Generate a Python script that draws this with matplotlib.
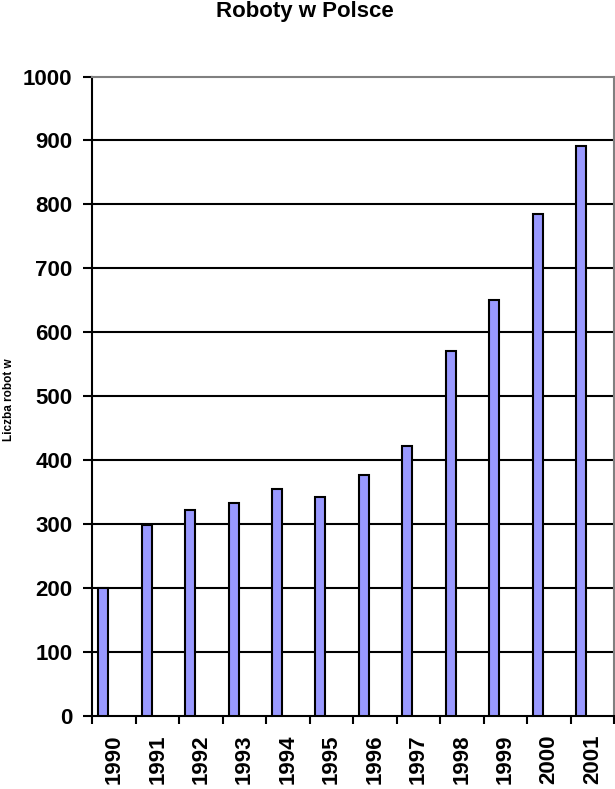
import numpy as np
import matplotlib
matplotlib.use("Agg")
import matplotlib.pyplot as plt

# Data
years = ['1990', '1991', '1992', '1993', '1994', '1995',
         '1996', '1997', '1998', '1999', '2000', '2001']
robots = [200, 299, 322, 333, 355, 342, 377, 422, 571, 650, 785, 892]

plt.rcParams['font.family'] = ['Liberation Sans', 'DejaVu Sans']
plt.rcParams['font.weight'] = 'bold'

fig = plt.figure(figsize=(6.15, 7.89), dpi=100)
ax = fig.add_axes([0.1504, 0.0925, 0.848, 0.8105])

x = np.arange(len(years))
ax.bar(x - 0.255, robots, width=0.23, color='#9999ff',
       edgecolor='black', linewidth=1.5, zorder=3)

ax.set_xlim(-0.5, len(years) - 0.5)
ax.set_ylim(0, 1000)
ax.set_yticks(range(0, 1001, 100))

# gridlines
for v in range(100, 1000, 100):
    ax.axhline(v, color='black', linewidth=1.5, zorder=1)

ax.set_xticks(x)
ax.set_xticklabels(years, rotation=90, fontsize=16, fontweight='bold')
ax.set_xticks(np.arange(-0.5, len(years)), minor=True)
ax.tick_params(axis='x', which='major', length=0, pad=13)
ax.tick_params(axis='x', which='minor', length=6, width=1.5, direction='out')
ax.tick_params(axis='y', length=6.5, width=1.5, direction='out', pad=8,
               labelsize=16)
for lab in ax.get_yticklabels():
    lab.set_fontweight('bold')

for s in ['left', 'bottom']:
    ax.spines[s].set_color('black')
    ax.spines[s].set_linewidth(1.5)
for s in ['top', 'right']:
    ax.spines[s].set_color('#808080')
    ax.spines[s].set_linewidth(1.5)

fig.text(0.495, 1 - 12 / 789, 'Roboty w Polsce', ha='center', va='center',
         fontsize=16, fontweight='bold')
fig.text(9 / 615, 1 - 400 / 789, 'Liczba robot w', rotation=90,
         ha='center', va='center', fontsize=8.5, fontweight='bold')

fig.savefig('out.png', dpi=100)
